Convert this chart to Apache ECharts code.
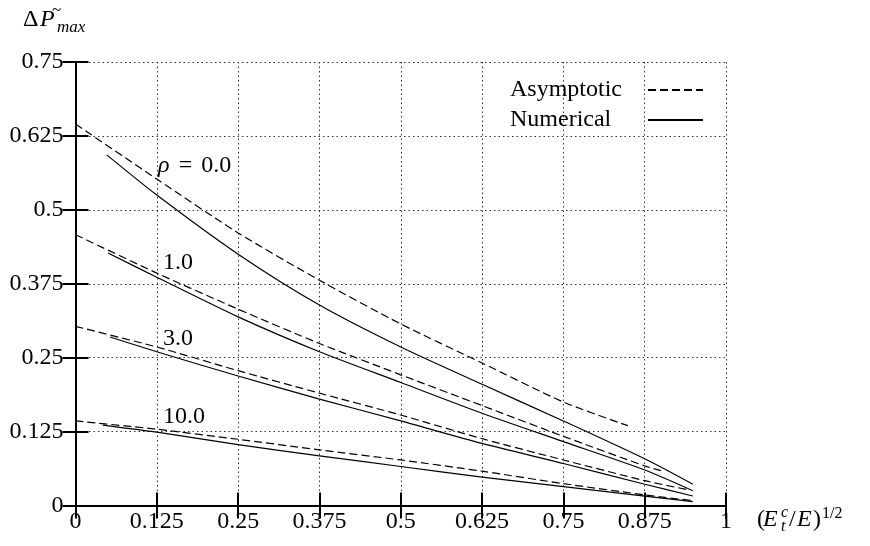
<!DOCTYPE html>
<html>
<head>
<meta charset="utf-8">
<script src="https://cdn.jsdelivr.net/npm/echarts@6/dist/echarts.min.js"></script>
<style>
html,body{margin:0;padding:0;background:#fff;}
#chart{width:870px;height:546px;}
</style>
</head>
<body>
<div id="chart"></div>
<script>
// ---- tick labels ----
const xTickLabels = ['0', '0.125', '0.25', '0.375', '0.5', '0.625', '0.75', '0.875', '1'];
const yTickLabels = ['0', '0.125', '0.25', '0.375', '0.5', '0.625', '0.75'];

// ---- Asymptotic (dashed) ----
const asymRho0X = [0, 0.125, 0.25, 0.375, 0.5, 0.625, 0.75, 0.849];
const asymRho0Y = [0.645, 0.552, 0.461, 0.381, 0.307, 0.241, 0.175, 0.135];
const asymRho1X = [0, 0.125, 0.25, 0.375, 0.5, 0.625, 0.75, 0.875, 0.9];
const asymRho1Y = [0.458, 0.393, 0.332, 0.274, 0.221, 0.169, 0.117, 0.067, 0.059];
const asymRho3X = [0, 0.125, 0.25, 0.375, 0.5, 0.625, 0.75, 0.875, 0.94];
const asymRho3Y = [0.303, 0.268, 0.228, 0.190, 0.153, 0.113, 0.077, 0.042, 0.027];
const asymRho10X = [0, 0.125, 0.25, 0.375, 0.5, 0.625, 0.75, 0.875, 0.95];
const asymRho10Y = [0.143, 0.129, 0.112, 0.094, 0.077, 0.058, 0.037, 0.018, 0.008];

// ---- Numerical (solid) ----
const numRho0X = [0.048, 0.125, 0.25, 0.375, 0.5, 0.625, 0.75, 0.875, 0.949];
const numRho0Y = [0.593, 0.525, 0.425, 0.339, 0.268, 0.205, 0.143, 0.079, 0.036];
const numRho1X = [0.05, 0.125, 0.25, 0.375, 0.5, 0.625, 0.75, 0.875, 0.949];
const numRho1Y = [0.427, 0.386, 0.319, 0.260, 0.208, 0.156, 0.108, 0.060, 0.025];
const numRho3X = [0.053, 0.125, 0.25, 0.375, 0.5, 0.625, 0.75, 0.875, 0.949];
const numRho3Y = [0.285, 0.260, 0.219, 0.180, 0.143, 0.105, 0.071, 0.036, 0.016];
const numRho10X = [0.042, 0.125, 0.25, 0.375, 0.5, 0.625, 0.75, 0.875, 0.949];
const numRho10Y = [0.136, 0.124, 0.103, 0.084, 0.066, 0.048, 0.032, 0.016, 0.0065];

// ---- curve annotations ----
const annoText = ['{i|ρ}{g| }={g| }0.0', '1.0', '3.0', '10.0'];
const annoX = [0.127, 0.1346, 0.1346, 0.1346];
const annoY = [0.575, 0.411, 0.282, 0.150];

const FONT = 'Liberation Serif';
const zip = (xs, ys) => xs.map((x, i) => [x, ys[i]]);

function curve(name, xs, ys, dashed) {
  return {
    name: name,
    type: 'line',
    data: zip(xs, ys),
    smooth: 0.25,
    symbol: 'none',
    silent: true,
    lineStyle: { color: '#000', width: 1.2, type: dashed ? [8, 4] : 'solid' },
    itemStyle: { color: '#000' },
    z: 3
  };
}

function txt(x, baseline, str, size, italic, align) {
  return {
    type: 'text',
    silent: true,
    style: {
      x: x,
      y: baseline - 0.34 * size,
      text: str,
      fontFamily: FONT,
      fontSize: size,
      fontStyle: italic ? 'italic' : 'normal',
      fill: '#000',
      align: align || 'left',
      verticalAlign: 'middle'
    }
  };
}

const chart = echarts.init(document.getElementById('chart'), null, { renderer: 'canvas' });

const axisCommon = {
  type: 'value',
  axisLine: { show: true, lineStyle: { color: '#000', width: 2 } },
  axisTick: { show: true, inside: true, length: 13, lineStyle: { color: '#000', width: 2 } }
};
const splitLineStyle = { show: true, lineStyle: { color: '#333', width: 1, type: [1.5, 3] } };

const option = {
  animation: false,
  backgroundColor: '#fff',
  grid: { left: 75.5, right: 144, top: 62, bottom: 40.5, containLabel: false },
  legend: {
    data: ['Asymptotic', 'Numerical'],
    orient: 'vertical',
    left: 510,
    top: 78,
    padding: 0,
    align: 'right',
    itemWidth: 55,
    itemHeight: 2,
    itemGap: 6,
    selectedMode: false,
    itemStyle: { opacity: 0 },
    formatter: name => '{t|' + name + '}',
    textStyle: {
      color: '#000',
      fontFamily: FONT,
      fontSize: 24,
      rich: { t: { width: 133, align: 'left', fontFamily: FONT, fontSize: 24 } }
    }
  },
  xAxis: [
    Object.assign({}, axisCommon, {
      position: 'bottom',
      min: 0, max: 1, interval: 0.125,
      splitLine: splitLineStyle,
      axisLabel: {
        color: '#000', fontFamily: FONT, fontSize: 24, margin: 4,
        formatter: v => xTickLabels[Math.round(v / 0.125)]
      }
    }),
    Object.assign({}, axisCommon, {
      position: 'top',
      min: 0, max: 1, interval: 0.125,
      splitLine: { show: false },
      axisLabel: { show: false }
    })
  ],
  yAxis: [
    Object.assign({}, axisCommon, {
      position: 'left',
      min: 0, max: 0.75, interval: 0.125,
      splitLine: splitLineStyle,
      axisLabel: {
        color: '#000', fontFamily: FONT, fontSize: 24, margin: 12,
        formatter: v => yTickLabels[Math.round(v / 0.125)]
      }
    }),
    Object.assign({}, axisCommon, {
      position: 'right',
      min: 0, max: 0.75, interval: 0.125,
      splitLine: { show: false },
      axisLabel: { show: false }
    })
  ],
  series: [
    curve('Asymptotic', asymRho0X, asymRho0Y, true),
    curve('Asymptotic', asymRho1X, asymRho1Y, true),
    curve('Asymptotic', asymRho3X, asymRho3Y, true),
    curve('Asymptotic', asymRho10X, asymRho10Y, true),
    curve('Numerical', numRho0X, numRho0Y, false),
    curve('Numerical', numRho1X, numRho1Y, false),
    curve('Numerical', numRho3X, numRho3Y, false),
    curve('Numerical', numRho10X, numRho10Y, false),
    {
      name: 'labels',
      type: 'scatter',
      silent: true,
      symbolSize: 0,
      data: zip(annoX, annoY),
      z: 5,
      itemStyle: { opacity: 1, color: '#000' },
      label: {
        show: true,
        position: 'right',
        distance: 0,
        color: '#000',
        opacity: 1,
        fontFamily: FONT,
        fontSize: 24,
        formatter: p => annoText[p.dataIndex],
        rich: {
          i: { fontStyle: 'italic', fontFamily: FONT, fontSize: 24, color: '#000' },
          g: { fontFamily: FONT, fontSize: 24, width: 9, color: '#000' }
        }
      }
    }
  ],
  graphic: [
    // y-axis title: Delta P-tilde_max
    txt(23, 28, 'Δ', 24, false),
    txt(40, 28, 'P', 24, true),
    txt(52, 16.5, '~', 17, false),
    txt(57, 33, 'max', 17, true),
    // x-axis title: (E_t^c / E)^{1/2}
    txt(757, 528, '(', 24, false),
    txt(763, 528, 'E', 24, true),
    txt(781, 518, 'c', 16, true),
    txt(781, 532, 't', 16, true),
    txt(789, 528, '/', 24, false),
    txt(797, 528, 'E', 24, true),
    txt(813, 528, ')', 24, false),
    txt(822, 519, '1/2', 16, false)
  ]
};

chart.setOption(option);
</script>
</body>
</html>
